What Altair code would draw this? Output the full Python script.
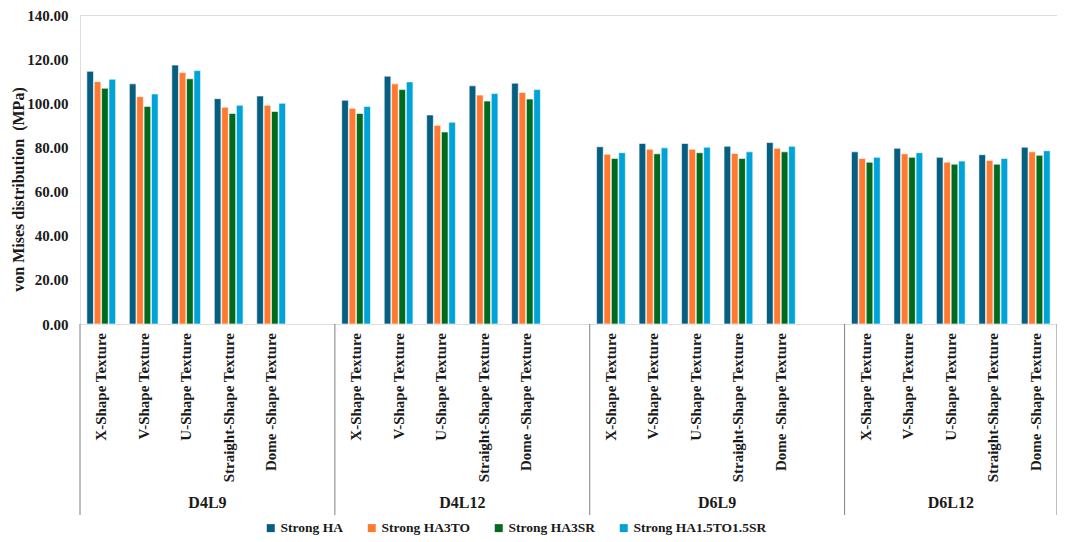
import altair as alt
import pandas as pd

groups = ["D4L9", "D4L12", "D6L9", "D6L12"]
textures = ["X-Shape Texture", "V-Shape Texture", "U-Shape Texture",
            "Straight-Shape Texture", "Dome -Shape Texture"]
series = ["Strong HA", "Strong HA3TO", "Strong HA3SR", "Strong HA1.5TO1.5SR"]
colors = ["#065E80", "#FF7A30", "#006B1E", "#00A3D8"]

strong_ha = [114.5, 108.8, 117.3, 102.1, 103.3,
             101.4, 112.3, 94.7, 107.9, 109.1,
             80.3, 81.8, 81.8, 80.5, 82.2,
             78.0, 79.6, 75.5, 76.7, 80.1]
strong_ha3to = [109.8, 103.0, 113.9, 98.2, 99.1,
                97.7, 108.8, 90.0, 103.7, 104.9,
                76.9, 79.2, 79.2, 77.3, 79.6,
                75.0, 77.1, 73.3, 74.1, 78.0]
strong_ha3sr = [106.8, 98.6, 111.1, 95.4, 96.3,
                95.4, 106.2, 87.0, 101.0, 101.9,
                75.0, 77.1, 77.6, 75.0, 78.0,
                73.3, 75.5, 72.4, 72.4, 76.4]
strong_ha15 = [110.9, 104.2, 114.8, 99.1, 100.0,
               98.6, 109.7, 91.4, 104.4, 106.2,
               77.6, 79.8, 80.1, 78.0, 80.5,
               75.5, 77.6, 73.8, 75.0, 78.5]

values = [strong_ha, strong_ha3to, strong_ha3sr, strong_ha15]

# slot order (with an empty gap slot after each group except the last)
slots = []
for gi, g in enumerate(groups):
    for t in textures:
        slots.append(f"{g}|{t}")
    if gi < len(groups) - 1:
        slots.append(f"{g}|")

rows = []
for si, s in enumerate(series):
    for gi, g in enumerate(groups):
        for ti, t in enumerate(textures):
            rows.append({"slot": f"{g}|{t}", "series": s,
                         "value": values[si][gi * 5 + ti]})
df = pd.DataFrame(rows)

tex_labels = pd.DataFrame({"slot": [f"{g}|{t}" for g in groups for t in textures],
                           "label": [t for g in groups for t in textures]})

W = 977
H = 309
FONT = "Liberation Serif"
TXT = "#1a1a1a"

xscale = alt.Scale(domain=slots, paddingInner=0, paddingOuter=0)

bars = alt.Chart(df).mark_bar(stroke="white", strokeWidth=0.6).encode(
    x=alt.X("slot:N", scale=xscale, title=None,
            axis=alt.Axis(labels=False, ticks=False, domainColor="#7f7f7f",
                          domainWidth=1, grid=False)),
    xOffset=alt.XOffset("series:N", sort=series,
                        scale=alt.Scale(paddingInner=0.1, paddingOuter=0.93)),
    y=alt.Y("value:Q", scale=alt.Scale(domain=[0, 140]),
            title="von Mises distribution\u00a0 (MPa)",
            axis=alt.Axis(values=[0, 20, 40, 60, 80, 100, 120, 140], format=".2f",
                          labelFont=FONT, labelFontWeight="bold", labelFontSize=15,
                          labelColor=TXT, labelPadding=12, ticks=False, domain=False,
                          grid=False, titleFont=FONT, titleFontWeight="bold",
                          titleFontSize=16, titleColor=TXT, titleX=-62, titleY=174,
                          titleAlign="center", titleBaseline="middle", titleAngle=270)),
    color=alt.Color("series:N", sort=series,
                    scale=alt.Scale(domain=series, range=colors),
                    legend=alt.Legend(title=None, orient="none", direction="horizontal",
                                      legendX=184, legendY=506,
                                      symbolType="square", symbolSize=64,
                                      symbolStrokeWidth=0, labelFont=FONT,
                                      labelFontWeight="bold", labelFontSize=13.5,
                                      labelColor=TXT, labelOffset=3,
                                      columnPadding=22)),
)

tex_text = alt.Chart(tex_labels).mark_text(font=FONT, fontWeight="bold", fontSize=15,
                                           color=TXT, angle=270, align="right",
                                           baseline="middle").encode(
    x=alt.X("slot:N", scale=xscale, bandPosition=0.5, axis=None),
    y=alt.value(H + 9), text="label:N")

starts = pd.DataFrame({"slot": [f"{g}|{textures[0]}" for g in groups]})
ends = pd.DataFrame({"slot": [f"{groups[-1]}|{textures[-1]}"]})

rule_start = alt.Chart(starts).mark_rule(color="#7f7f7f", strokeWidth=1).encode(
    x=alt.X("slot:N", scale=xscale, bandPosition=0, axis=None),
    y=alt.value(H), y2=alt.value(H + 191))
rule_end = alt.Chart(ends).mark_rule(color="#7f7f7f", strokeWidth=1).encode(
    x=alt.X("slot:N", scale=xscale, bandPosition=1, axis=None),
    y=alt.value(H), y2=alt.value(H + 191))

glab_a = pd.DataFrame({"slot": [f"{g}|{textures[3]}" for g in groups[:3]],
                       "label": groups[:3]})
glab_b = pd.DataFrame({"slot": [f"{groups[3]}|{textures[2]}"], "label": [groups[3]]})

text_a = alt.Chart(glab_a).mark_text(font=FONT, fontWeight="bold", fontSize=16,
                                     color=TXT, baseline="middle").encode(
    x=alt.X("slot:N", scale=xscale, bandPosition=0, axis=None),
    y=alt.value(H + 179), text="label:N")
text_b = alt.Chart(glab_b).mark_text(font=FONT, fontWeight="bold", fontSize=16,
                                     color=TXT, baseline="middle").encode(
    x=alt.X("slot:N", scale=xscale, bandPosition=0.5, axis=None),
    y=alt.value(H + 179), text="label:N")

chart = alt.layer(bars, tex_text, rule_start, rule_end, text_a, text_b).properties(
    width=W, height=H,
    autosize=alt.AutoSizeParams(type="none"),
    padding={"left": 72, "top": 7, "right": 0, "bottom": 212},
).configure_view(stroke=None).configure(background="white")

chart.save("out.html", embed_options={"renderer": "svg", "actions": False})
